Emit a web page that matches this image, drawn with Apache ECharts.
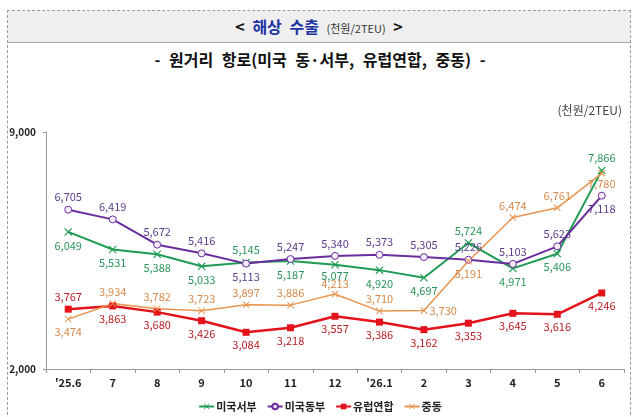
<!DOCTYPE html>
<html>
<head>
<meta charset="utf-8">
<script src="https://cdn.jsdelivr.net/npm/echarts@6/dist/echarts.min.js"></script>
<style>
  html,body{margin:0;padding:0;background:#fff;}
  .wrap{position:relative;width:640px;height:417px;overflow:hidden;font-family:"Noto Sans CJK KR",sans-serif;}
  .frame{position:absolute;left:7px;top:10px;width:624px;height:420px;border:1px dashed #9a9a9a;box-sizing:border-box;}
  .head{position:absolute;left:8px;top:11px;width:622px;height:31px;background:#efefef;border-bottom:1px solid #a8a8a8;
    text-align:center;line-height:31px;font-size:16px;font-weight:bold;color:#111;word-spacing:4px;}
  .head .blue{color:#2035a0;}
  .head .unit{font-size:11px;font-weight:normal;color:#333;word-spacing:0;}
  .sub{position:absolute;left:0;top:47px;width:640px;text-align:center;font-size:16px;font-weight:bold;color:#111;word-spacing:5px;}
  #chart{position:absolute;left:0;top:0;width:640px;height:417px;}
</style>
</head>
<body>
<div class="wrap">
  <div class="frame"></div>
  <div class="head">&lt; <span class="blue">해상 수출</span> <span class="unit">(천원/2TEU)</span> &gt;</div>
  <div class="sub">- 원거리 항로(미국 동·서부, 유럽연합, 중동) -</div>
  <div id="chart"></div>
</div>
<script>
const categories = ["'25.6", '7', '8', '9', '10', '11', '12', "'26.1", '2', '3', '4', '5', '6']
const usWest = [6049, 5531, 5388, 5033, 5145, 5187, 5077, 4920, 4697, 5724, 4971, 5406, 7866]
const usEast = [6705, 6419, 5672, 5416, 5113, 5247, 5340, 5373, 5305, 5226, 5103, 5623, 7118]
const eu = [3767, 3863, 3680, 3426, 3084, 3218, 3557, 3386, 3162, 3353, 3645, 3616, 4246]
const middleEast = [3474, 3934, 3782, 3723, 3897, 3886, 4213, 3710, 3730, 5191, 6474, 6761, 7780]

// 라벨 위치 (T=위, B=아래, R=오른쪽)
const posWest = 'BBBBTBBBBTBBT'
const posEast = 'TTTTBTTTTTTTB'
const posEu = 'TBBBBBBBBBBBB'
const posMe = 'BTTTTTTTRBTTR'

const xShape = 'path://M0,1L1,0L5,4L9,0L10,1L6,5L10,9L9,10L5,6L1,10L0,9L4,5Z'
const fmt = (v) => Number(v).toLocaleString('en-US')

function build(values, pos, extra) {
  return values.map((v, i) => {
    const p = pos[i]
    const label = {}
    if (p === 'T') { label.position = 'top'; label.distance = 3 }
    if (p === 'B') { label.position = 'bottom'; label.distance = 4 }
    if (p === 'R') { label.position = 'right'; label.distance = 2 }
    if (extra && extra[i]) Object.assign(label, extra[i])
    return { value: v, label }
  })
}

function line(name, data, color, labelColor, symbol, size, width, fill) {
  return {
    name,
    type: 'line',
    data,
    symbol,
    symbolSize: size,
    showAllSymbol: true,
    lineStyle: { color, width },
    itemStyle: { color: fill || color, borderColor: color, borderWidth: fill ? 1 : 0 },
    label: {
      show: true,
      formatter: (p) => fmt(p.value),
      color: labelColor,
      fontSize: 11,
      fontFamily: 'Noto Sans CJK KR'
    },
    labelLayout: { hideOverlap: false },
    emphasis: { disabled: true }
  }
}

const myChart = echarts.init(document.getElementById('chart'), null, { renderer: 'canvas' })
const option = {
  backgroundColor: 'transparent',
  animation: false,
  textStyle: { fontFamily: 'Noto Sans CJK KR' },
  graphic: [{
    type: 'text',
    right: 18,
    top: 104,
    style: { text: '(천원/2TEU)', fill: '#444', fontSize: 12, fontFamily: 'Noto Sans CJK KR' }
  }],
  grid: { left: 46, right: 16, top: 132, bottom: 48, outerBoundsMode: 'none' },
  legend: {
    top: 396,
    left: 'center',
    itemWidth: 15,
    itemHeight: 7,
    itemGap: 10,
    textStyle: { fontSize: 11, color: '#222', fontWeight: 'bold', fontFamily: 'Noto Sans CJK KR', padding: [0, 0, 0, -3] },
    data: ['미국서부', '미국동부', '유럽연합', '중동']
  },
  xAxis: {
    type: 'category',
    data: categories,
    boundaryGap: true,
    axisLine: { lineStyle: { color: '#999' } },
    axisTick: { show: true, length: 4, lineStyle: { color: '#999' } },
    axisLabel: { color: '#222', fontSize: 11, fontWeight: 'bold', margin: 8 }
  },
  yAxis: {
    type: 'value',
    min: 2000,
    max: 9000,
    interval: 7000,
    splitLine: { show: false },
    axisLine: { show: true, lineStyle: { color: '#999' } },
    axisTick: { show: true, length: 3, lineStyle: { color: '#999' } },
    axisLabel: { color: '#222', fontSize: 10, fontWeight: 'bold', margin: 10, formatter: fmt }
  },
  series: [
    line('미국서부', build(usWest, posWest, { 6: { distance: 1 } }), '#1f9a55', '#2a9458', xShape, 8, 2),
    line('미국동부', build(usEast, posEast, { 12: { position: 'bottom', offset: [10, 0] } }), '#6a2d9e', '#5b3c8c', 'circle', 7, 2, '#f3eefa'),
    line('유럽연합', build(eu, posEu), '#e3121b', '#b81c22', 'rect', 7, 2.5),
    line('중동', build(middleEast, posMe, { 6: { distance: 1 }, 11: { offset: [-6, 0] }, 12: { position: 'bottom', offset: [12, -4] } }), '#e8944e', '#d6894a', xShape, 7, 1.5)
  ]
}
myChart.setOption(option)
</script>
</body>
</html>
